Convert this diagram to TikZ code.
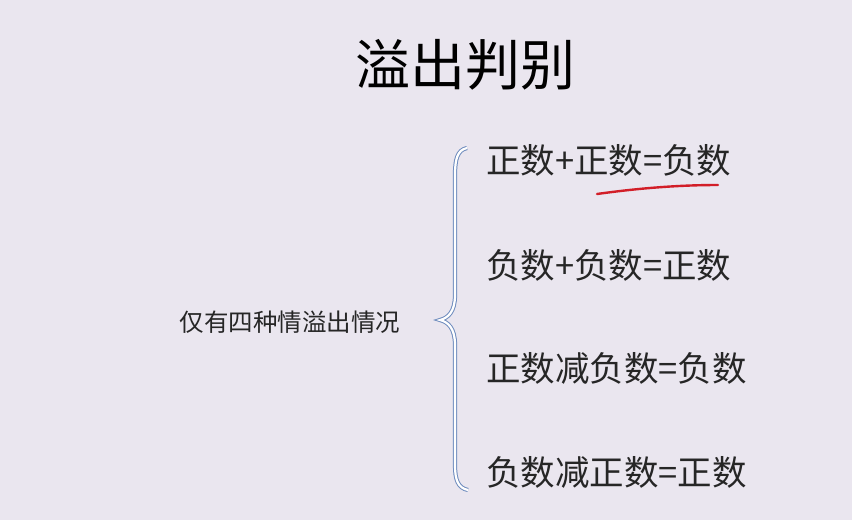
\documentclass[tikz,border=0pt]{standalone}
\usepackage{fontspec}
\setmainfont{Noto Sans CJK SC}
\definecolor{bg}{RGB}{234,230,239}
\definecolor{brc}{RGB}{110,140,190}
\definecolor{ured}{RGB}{210,30,40}
\begin{document}
\begin{tikzpicture}[x=1pt,y=-1pt,
  item/.style={anchor=west,inner sep=0pt,font=\fontsize{34.5}{34.5}\selectfont,text=black!85}]
\fill[bg] (0,0) rectangle (852,520);
\useasboundingbox (0,0) rectangle (852,520);
\node[inner sep=0pt,font=\fontsize{55}{55}\selectfont] (title) at (465,65) {溢出判别};
\node[inner sep=0pt,font=\fontsize{24.5}{24.5}\selectfont,text=black!85] (lab) at (290,322) {仅有四种情溢出情况};
\node[item] (a) at (486,160) {正数+正数=负数};
\node[item] (b) at (486,265) {负数+负数=正数};
\node[item] (c) at (486,368) {正数减负数=负数};
\node[item] (d) at (486,472) {负数减正数=正数};
\draw[brc,line width=1pt,double=white,double distance=2.2pt]
 (467,148) .. controls (457,150) and (455,160) .. (455,175) -- (455,295)
 .. controls (455,312) and (448,318) .. (440,320)
 .. controls (448,322) and (455,328) .. (455,345) -- (455,465)
 .. controls (455,480) and (458,488) .. (468,490);
\coordinate (u1) at (597,194);
\coordinate (u2) at (718,185);
\draw[ured,line width=2.4pt,line cap=round] (u1) .. controls (640,188) and (680,185) .. (u2);
\end{tikzpicture}
\end{document}
